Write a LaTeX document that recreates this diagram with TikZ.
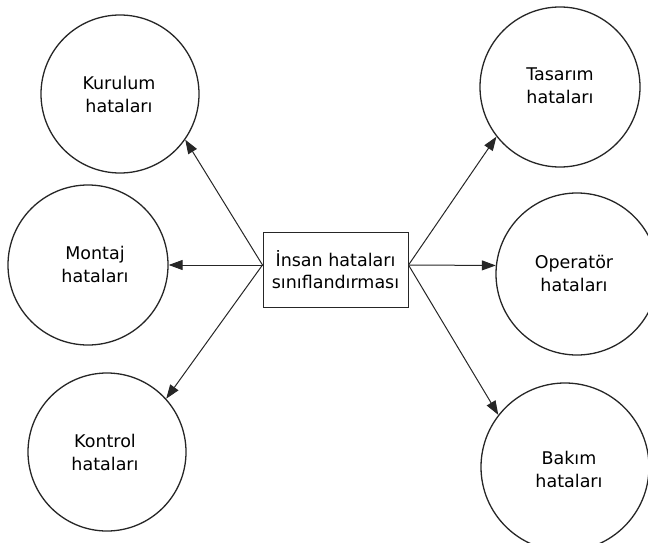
\documentclass[tikz,border=0pt]{standalone}
\usepackage{fontspec}
\setmainfont{DejaVu Sans}
\usetikzlibrary{arrows.meta}
\begin{document}
\begin{tikzpicture}[x=1pt,y=-1pt,
  bubble/.style={draw=black!85,line width=1.3pt,circle,minimum size=#1,inner sep=0pt},
  label text/.style={align=center,inner sep=0pt,font=\fontsize{17.5}{23}\selectfont},
  hub/.style={draw=black!85,line width=1pt,minimum width=145pt,minimum height=75pt,
              inner sep=0pt,align=center,font=\fontsize{17.5}{22}\selectfont},
  link/.style={draw=black!85,line width=1pt,-{Triangle[length=14pt,width=10pt]}}]
\useasboundingbox (0,0) rectangle (648,543);

% central box
\node[hub] (hub) at (335.5,269.5) {İnsan hataları\\sınıflandırması};
\coordinate (hubL) at ([yshift=4.5pt]hub.west);
\coordinate (hubR) at ([yshift=4.5pt]hub.east);

% left-hand bubbles
\node[bubble=158pt] (kur) at (120,94) {};
\node[label text] (kurT) at (119,94) {Kurulum\\hataları};
\node[bubble=160pt] (mon) at (88,265) {};
\node[label text] (monT) at (95,264) {Montaj\\hataları};
\node[bubble=158pt] (kon) at (107,452) {};
\node[label text] (konT) at (105,452) {Kontrol\\hataları};

% right-hand bubbles
\node[bubble=160pt] (tas) at (560,87) {};
\node[label text] (tasT) at (560,86) {Tasarım\\hataları};
\node[bubble=162pt] (op) at (577,274) {};
\node[label text] (opT) at (574,273) {Operatör\\hataları};
\node[bubble=168pt] (bak) at (565,467) {};
\node[label text] (bakT) at (569,469) {Bakım\\hataları};

% connectors
\draw[link] (hubL) -- (kur.-35);
\draw[link] (hubL) -- (mon.east);
\draw[link] (hubL) -- (kon.42);
\draw[link] (hubR) -- (tas.218);
\draw[link] (hubR) -- (op.174);
\draw[link] (hubR) -- (bak.142);
\end{tikzpicture}
\end{document}
